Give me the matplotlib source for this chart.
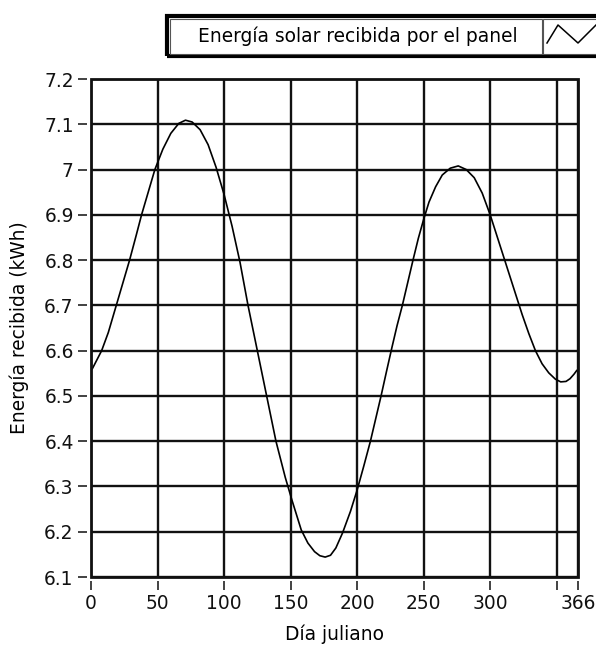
import matplotlib
matplotlib.use("Agg")
import matplotlib.pyplot as plt
from matplotlib.patches import Rectangle
from matplotlib.lines import Line2D

# ---- data ----
days = [1, 8, 13, 19, 24, 29, 34, 38, 43, 48, 54, 60, 66, 71, 76, 82, 88, 94, 100,
        106, 112, 118, 125, 132, 139, 146, 151, 158, 163, 168, 172, 176, 180, 184,
        189, 195, 200, 205, 210, 218, 222, 226, 230, 234, 238, 242, 246, 250, 254,
        259, 264, 270, 276, 282, 288, 294, 300, 306, 312, 318, 324, 329, 334, 339,
        344, 349, 353, 357, 360, 363, 365]
energy = [6.56, 6.60, 6.64, 6.70, 6.75, 6.80, 6.855, 6.90, 6.95, 7.00, 7.045, 7.08,
          7.102, 7.109, 7.105, 7.088, 7.055, 7.005, 6.945, 6.875, 6.795, 6.70, 6.60,
          6.50, 6.40, 6.32, 6.27, 6.204, 6.175, 6.156, 6.147, 6.144, 6.148, 6.164,
          6.197, 6.245, 6.292, 6.345, 6.40, 6.50, 6.553, 6.605, 6.655, 6.70, 6.75,
          6.80, 6.848, 6.89, 6.928, 6.962, 6.988, 7.003, 7.008, 7.0, 6.982, 6.948,
          6.90, 6.845, 6.79, 6.735, 6.68, 6.638, 6.600, 6.571, 6.551, 6.537, 6.531,
          6.532, 6.538, 6.548, 6.556]

x_ticks = [0, 50, 100, 150, 200, 250, 300, 350, 366]
x_ticklabels = ["0", "50", "100", "150", "200", "250", "300", "", "366"]
y_ticks = [6.1, 6.2, 6.3, 6.4, 6.5, 6.6, 6.7, 6.8, 6.9, 7.0, 7.1, 7.2]
y_ticklabels = ["6.1", "6.2", "6.3", "6.4", "6.5", "6.6", "6.7", "6.8", "6.9", "7", "7.1", "7.2"]

series_name = "Energía solar recibida por el panel"
x_label = "Día juliano"
y_label = "Energía recibida (kWh)"

# ---- figure ----
W, H = 596, 646
fig = plt.figure(figsize=(W / 100, H / 100), dpi=100)
plt.rcParams['font.family'] = ['DejaVu Sans']
FS = 13.4

AX_W = 578 - 91
AX_H = 577 - 79
ax = fig.add_axes([91 / W, 1 - 577 / H, AX_W / W, AX_H / H])
ax.set_xlim(0, 366)
ax.set_ylim(6.1, 7.2)

ax.plot(days, energy, color="black", lw=1.2, zorder=3)

ax.set_xticks(x_ticks)
ax.set_xticklabels(x_ticklabels)
ax.set_yticks(y_ticks)
ax.set_yticklabels(y_ticklabels)

ax.grid(True, color="#111111", lw=1.7)
ax.set_axisbelow(True)

for s in ["top", "right"]:
    ax.spines[s].set_visible(False)
for s in ["bottom", "left"]:
    ax.spines[s].set_position(("outward", 3))
    ax.spines[s].set_visible(False)

ax.tick_params(axis="both", direction="out", length=6.5, width=1.2,
               color="#222222", labelsize=FS, pad=3.0, labelcolor="#111111")

# frame
ax.add_patch(Rectangle((0, 0), 1, 1, transform=ax.transAxes, fill=False,
                       ec="#111111", lw=2.0, clip_on=False, zorder=4))

ax.set_xlabel(x_label, fontsize=FS)
ax.set_ylabel(y_label, fontsize=FS)
ax.xaxis.set_label_coords(0.5, -(625 - 577) / AX_H)
ax.yaxis.set_label_coords(-(91 - 29) / AX_W, 0.5)

# ---- legend box drawn at top ----
def fig_rect(x0, y0, x1, y1, **kw):
    r = Rectangle((x0 / W, 1 - y1 / H), (x1 - x0) / W, (y1 - y0) / H,
                  transform=fig.transFigure, **kw)
    fig.add_artist(r)

fig_rect(167, 16, 610, 56, fill=False, ec="black", lw=3.0)
fig_rect(169.5, 18.5, 541.5, 53.5, fill=True, fc="white", ec="#555555", lw=0.8)
fig_rect(542.5, 18.5, 610, 53.5, fill=True, fc="white", ec="#555555", lw=0.8)
fig.text(358 / W, 1 - 36 / H, series_name, ha="center", va="center", fontsize=FS)
sym_x = [547, 558, 578, 596]
sym_y = [43, 25, 43, 25]
fig.add_artist(Line2D([v / W for v in sym_x], [1 - v / H for v in sym_y],
                      transform=fig.transFigure, color="black", lw=1.1))

fig.savefig("out.png", dpi=100)
